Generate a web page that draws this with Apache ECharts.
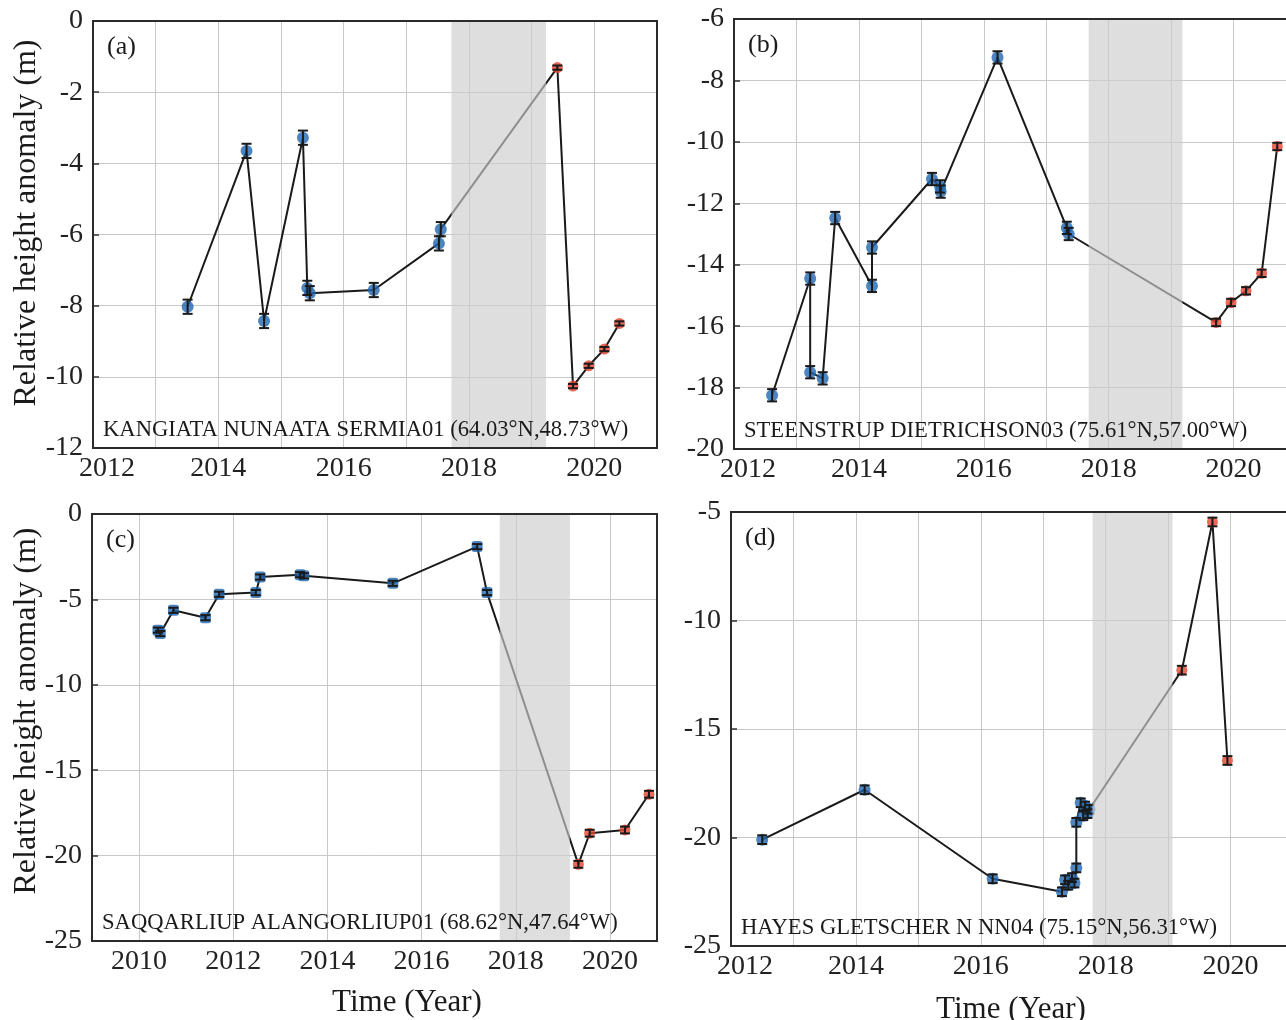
<!DOCTYPE html>
<html><head><meta charset="utf-8">
<script src="https://cdn.jsdelivr.net/npm/echarts@6/dist/echarts.min.js"></script>
<style>html,body{margin:0;padding:0;background:#fff}#c{width:1286px;height:1020px}</style>
</head><body><div id="c"></div>
<script>
// ---------- Panel (a) KANGIATA NUNAATA SERMIA01 ----------
const aBlueT = [2013.51, 2014.45, 2014.73, 2015.35, 2015.42, 2015.46, 2016.48, 2017.52, 2017.55];
const aBlueH = [-8.03, -3.65, -8.43, -3.28, -7.50, -7.65, -7.56, -6.25, -5.85];
const aBlueE = [0.2, 0.2, 0.2, 0.2, 0.2, 0.2, 0.2, 0.2, 0.2];
const aRedT = [2019.41, 2019.66, 2019.91, 2020.16, 2020.40];
const aRedH = [-1.31, -10.26, -9.69, -9.22, -8.50];
const aRedE = [0.06, 0.06, 0.06, 0.06, 0.06];
const aShade = [2017.72, 2019.23];

// ---------- Panel (b) STEENSTRUP DIETRICHSON03 ----------
const bBlueT = [2012.61, 2013.22, 2013.22, 2013.42, 2013.62, 2014.21, 2014.21, 2015.17, 2015.30, 2015.31, 2016.22, 2017.33, 2017.36];
const bBlueH = [-18.25, -14.45, -17.50, -17.70, -12.48, -14.69, -13.44, -11.21, -11.45, -11.62, -7.25, -12.80, -13.00];
const bBlueE = [0.2, 0.2, 0.2, 0.2, 0.2, 0.2, 0.2, 0.2, 0.2, 0.2, 0.2, 0.2, 0.2];
const bRedT = [2019.72, 2019.96, 2020.20, 2020.45, 2020.70];
const bRedH = [-15.88, -15.23, -14.85, -14.28, -10.15];
const bRedE = [0.12, 0.12, 0.12, 0.12, 0.12];
const bShade = [2017.68, 2019.18];

// ---------- Panel (c) SAQQARLIUP ALANGORLIUP01 ----------
const cBlueT = [2010.40, 2010.45, 2010.73, 2011.41, 2011.70, 2012.48, 2012.57, 2013.42, 2013.50, 2015.39, 2017.18, 2017.39];
const cBlueH = [-6.80, -7.00, -5.64, -6.07, -4.70, -4.60, -3.69, -3.55, -3.62, -4.06, -1.91, -4.60];
const cBlueE = [0.15, 0.15, 0.15, 0.15, 0.15, 0.15, 0.15, 0.15, 0.15, 0.15, 0.15, 0.15];
const cRedT = [2019.33, 2019.57, 2020.32, 2020.83];
const cRedH = [-20.51, -18.69, -18.50, -16.41];
const cRedE = [0.2, 0.2, 0.2, 0.2];
const cShade = [2017.66, 2019.15];
const cXTicks = [2010, 2012, 2014, 2016, 2018, 2020];

// ---------- Panel (d) HAYES GLETSCHER N NN04 ----------
const dBlueT = [2012.50, 2014.14, 2016.19, 2017.30, 2017.35, 2017.40, 2017.46, 2017.50, 2017.53, 2017.53, 2017.60, 2017.64, 2017.67, 2017.71, 2017.74];
const dBlueH = [-20.10, -17.80, -21.90, -22.50, -21.95, -22.20, -21.85, -22.10, -21.40, -19.30, -18.40, -19.00, -18.55, -18.90, -18.70];
const dBlueE = [0.2, 0.2, 0.2, 0.2, 0.2, 0.2, 0.2, 0.2, 0.2, 0.2, 0.2, 0.2, 0.2, 0.2, 0.2];
const dRedT = [2019.22, 2019.71, 2019.95];
const dRedH = [-12.29, -5.46, -16.45];
const dRedE = [0.2, 0.2, 0.2];
const dShade = [2017.79, 2019.07];

const labelsText = [
  'KANGIATA NUNAATA SERMIA01 (64.03°N,48.73°W)',
  'STEENSTRUP DIETRICHSON03 (75.61°N,57.00°W)',
  'SAQQARLIUP ALANGORLIUP01 (68.62°N,47.64°W)',
  'HAYES GLETSCHER N NN04 (75.15°N,56.31°W)'
];
const panelTags = ['(a)', '(b)', '(c)', '(d)'];

// ---------- layout / style ----------
const FONT = '"Liberation Serif","Times New Roman",serif';
const BLUE = '#1f66b0', RED = '#e5432f', INK = '#1a1a1a';
const TICK_FS = 28;
const grids = [
  {left: 93, top: 21, width: 564, height: 427},
  {left: 734, top: 19, width: 562, height: 430},
  {left: 92, top: 514, width: 565, height: 427},
  {left: 731, top: 512, width: 562, height: 434}
];

const panels = [
  {bt: aBlueT, bh: aBlueH, be: aBlueE, rt: aRedT, rh: aRedH, re: aRedE, shade: aShade, ymin: -12, ymax: 0, yint: 2, xmin: 2012, xmax: 2021},
  {bt: bBlueT, bh: bBlueH, be: bBlueE, rt: bRedT, rh: bRedH, re: bRedE, shade: bShade, ymin: -20, ymax: -6, yint: 2, xmin: 2012, xmax: 2021},
  {bt: cBlueT, bh: cBlueH, be: cBlueE, rt: cRedT, rh: cRedH, re: cRedE, shade: cShade, ymin: -25, ymax: 0, yint: 5, xmin: 2009, xmax: 2021, ticks: cXTicks, square: true},
  {bt: dBlueT, bh: dBlueH, be: dBlueE, rt: dRedT, rh: dRedH, re: dRedE, shade: dShade, ymin: -25, ymax: -5, yint: 5, xmin: 2012, xmax: 2021}
];

function errSeries(idx, T, H, E) {
  return {
    type: 'custom', xAxisIndex: idx, yAxisIndex: idx, z: 4, silent: true,
    data: T.map((t, i) => [t, H[i], E[i]]),
    encode: {x: 0, y: 1},
    renderItem: (params, api) => {
      const t = api.value(0), h = api.value(1), e = api.value(2);
      const p1 = api.coord([t, h + e]), p2 = api.coord([t, h - e]);
      const w = 5, st = {stroke: INK, lineWidth: 2};
      return {type: 'group', children: [
        {type: 'line', shape: {x1: p1[0], y1: p1[1], x2: p2[0], y2: p2[1]}, style: st},
        {type: 'line', shape: {x1: p1[0] - w, y1: p1[1], x2: p1[0] + w, y2: p1[1]}, style: st},
        {type: 'line', shape: {x1: p2[0] - w, y1: p2[1], x2: p2[0] + w, y2: p2[1]}, style: st}
      ]};
    }
  };
}

const xAxes = [], yAxes = [], series = [], graphics = [];
panels.forEach((p, i) => {
  const g = grids[i];
  const xa = {
    type: 'value', gridIndex: i, min: p.xmin, max: p.xmax,
    axisLine: {show: false},
    splitLine: {show: true, lineStyle: {color: '#c8c8c8', width: 1}},
    axisLabel: {fontSize: TICK_FS, fontFamily: FONT, color: '#222', margin: 7,
      rich: {f: {fontSize: TICK_FS, fontFamily: FONT, color: '#222', padding: [0, 0, 0, 28]}}}
  };
  if (p.ticks) {
    xa.axisTick = {show: false, customValues: p.ticks};
    xa.axisLabel.customValues = p.ticks;
    xa.axisLabel.formatter = v => String(Math.round(v));
  } else {
    xa.interval = 1;
    xa.axisTick = {show: false};
    xa.axisLabel.formatter = v => {
      const y = Math.round(v);
      if (y % 2 !== 0) return '';
      return y === p.xmin ? '{f|' + y + '}' : String(y);
    };
  }
  xAxes.push(xa);
  yAxes.push({
    type: 'value', gridIndex: i, min: p.ymin, max: p.ymax, interval: p.yint,
    axisLine: {show: false},
    axisTick: {show: true, inside: true, length: 6, lineStyle: {color: '#333', width: 1.5}},
    splitLine: {show: true, lineStyle: {color: '#c8c8c8', width: 1}},
    axisLabel: {fontSize: TICK_FS, fontFamily: FONT, color: '#222', margin: 10}
  });
  const all = p.bt.map((t, k) => [t, p.bh[k]]).concat(p.rt.map((t, k) => [t, p.rh[k]]));
  series.push({type: 'line', xAxisIndex: i, yAxisIndex: i, data: all, showSymbol: false, z: 2,
    lineStyle: {color: INK, width: 2}, silent: true});
  series.push({type: 'scatter', xAxisIndex: i, yAxisIndex: i, z: 3, silent: true,
    data: p.bt.map((t, k) => [t, p.bh[k]]),
    symbol: p.square ? 'roundRect' : 'circle', symbolSize: p.square ? 11 : 12, itemStyle: {color: BLUE}});
  series.push({type: 'scatter', xAxisIndex: i, yAxisIndex: i, z: 3, silent: true,
    data: p.rt.map((t, k) => [t, p.rh[k]]),
    symbolSize: 11, itemStyle: {color: RED}});
  series.push(errSeries(i, p.bt, p.bh, p.be));
  series.push(errSeries(i, p.rt, p.rh, p.re));
  series.push({type: 'line', xAxisIndex: i, yAxisIndex: i, data: [], z: 10, silent: true,
    markArea: {silent: true, z: 10, itemStyle: {color: 'rgba(205,205,205,0.66)'},
      data: [[{xAxis: p.shade[0]}, {xAxis: p.shade[1]}]]}});

  graphics.push({type: 'rect', z: 100, silent: true,
    shape: {x: g.left, y: g.top, width: g.width, height: g.height},
    style: {fill: 'transparent', stroke: '#2b2b2b', lineWidth: 2}});
  graphics.push({type: 'text', z: 100, silent: true, x: g.left + 10, y: g.top + g.height - 18,
    style: {text: labelsText[i], font: '22.6px ' + FONT, fill: INK, textAlign: 'left', textVerticalAlign: 'middle'}});
  graphics.push({type: 'text', z: 100, silent: true, x: g.left + 14, y: g.top + 26,
    style: {text: panelTags[i], font: '26px ' + FONT, fill: INK, textAlign: 'left', textVerticalAlign: 'middle'}});
});

// axis titles
graphics.push({type: 'text', z: 100, silent: true, x: 27, y: 223, rotation: Math.PI / 2,
  style: {text: 'Relative height anomaly (m)', font: '32px ' + FONT, fill: INK, textAlign: 'center', textVerticalAlign: 'middle'}});
graphics.push({type: 'text', z: 100, silent: true, x: 27, y: 711, rotation: Math.PI / 2,
  style: {text: 'Relative height anomaly (m)', font: '32px ' + FONT, fill: INK, textAlign: 'center', textVerticalAlign: 'middle'}});
graphics.push({type: 'text', z: 100, silent: true, x: 407, y: 1003,
  style: {text: 'Time (Year)', font: '31px ' + FONT, fill: INK, textAlign: 'center', textVerticalAlign: 'middle'}});
graphics.push({type: 'text', z: 100, silent: true, x: 1011, y: 1010,
  style: {text: 'Time (Year)', font: '31px ' + FONT, fill: INK, textAlign: 'center', textVerticalAlign: 'middle'}});

const chart = echarts.init(document.getElementById('c'), null, {renderer: 'canvas'});
chart.setOption({
  animation: false,
  backgroundColor: '#ffffff',
  grid: grids.map(g => Object.assign({containLabel: false, outerBoundsMode: 'none', show: true, backgroundColor: '#fff', borderWidth: 0}, g)),
  xAxis: xAxes,
  yAxis: yAxes,
  series: series,
  graphic: {elements: graphics}
});
</script>
</body></html>
